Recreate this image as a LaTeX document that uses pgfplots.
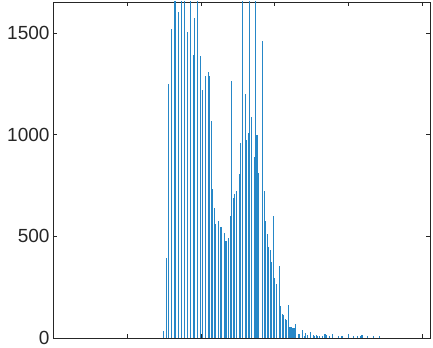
\documentclass[border=0pt]{standalone}
\usepackage{pgfplots}
\pgfplotsset{compat=1.18}
\usepackage{fontspec}
\setmainfont{Liberation Sans}
\definecolor{mblue}{RGB}{0,114,189}
\definecolor{mgray}{RGB}{38,38,38}
\begin{document}
\begin{tikzpicture}
\begin{axis}[
 scale only axis, width=377bp, height=336bp,
 xmin=0, xmax=255, ymin=0, ymax=1652,
 xtick={50,100,150,200,250}, xticklabels={},
 ytick={0,500,1000,1500},
 tick align=inside, major tick length=4bp,
 axis line style={mgray, line width=0.6bp},
 every tick/.style={mgray, line width=0.6bp},
 yticklabel style={font=\fontsize{19bp}{22bp}\selectfont, text=mgray},
 /pgf/number format/assume math mode=true,
 /pgf/number format/1000 sep={},
 clip=true,
]
\addplot[ycomb, mblue!85!white, line width=1.1bp] coordinates {
(75,35) (77,393) (78,1247) (80,1520) (82,1800) (83,1750) (85,1603) (87,1900)
(89,1800) (91,1506) (93,2000) (95,1392) (96,1574) (98,1850) (100,1387) (101,1220)
(103,1289) (105,1308) (106,1289) (107,1068) (108,732) (109,638) (110,561) (112,575)
(113,547) (114,545) (116,518) (117,479) (119,490) (120,600) (121,1265) (122,687)
(123,708) (124,724) (126,807) (127,958) (128,1900) (130,1200) (131,974) (132,1007)
(133,1900) (134,1089) (136,892) (137,2000) (138,999) (139,813) (142,1460) (143,723)
(144,577) (145,512) (146,449) (147,433) (148,376) (149,600) (150,297) (151,266)
(153,354) (154,157) (155,120) (156,112) (157,91) (158,88) (159,162) (160,55)
(161,52) (162,49) (163,49) (164,69) (166,22) (167,20) (169,37) (170,11)
(171,23) (172,13) (174,31) (176,15) (177,12) (178,15) (179,10) (180,10)
(182,10) (184,20) (185,15) (187,8) (189,20) (193,8) (195,8) (196,8)
(200,20) (203,8) (206,8) (208,8) (209,15) (213,10) (217,8) (221,8)
};
\end{axis}
\pgfresetboundingbox
\path ([xshift=-53bp,yshift=-10bp]current axis.south west) rectangle ([xshift=3bp,yshift=2bp]current axis.north east);
\end{tikzpicture}
\end{document}
